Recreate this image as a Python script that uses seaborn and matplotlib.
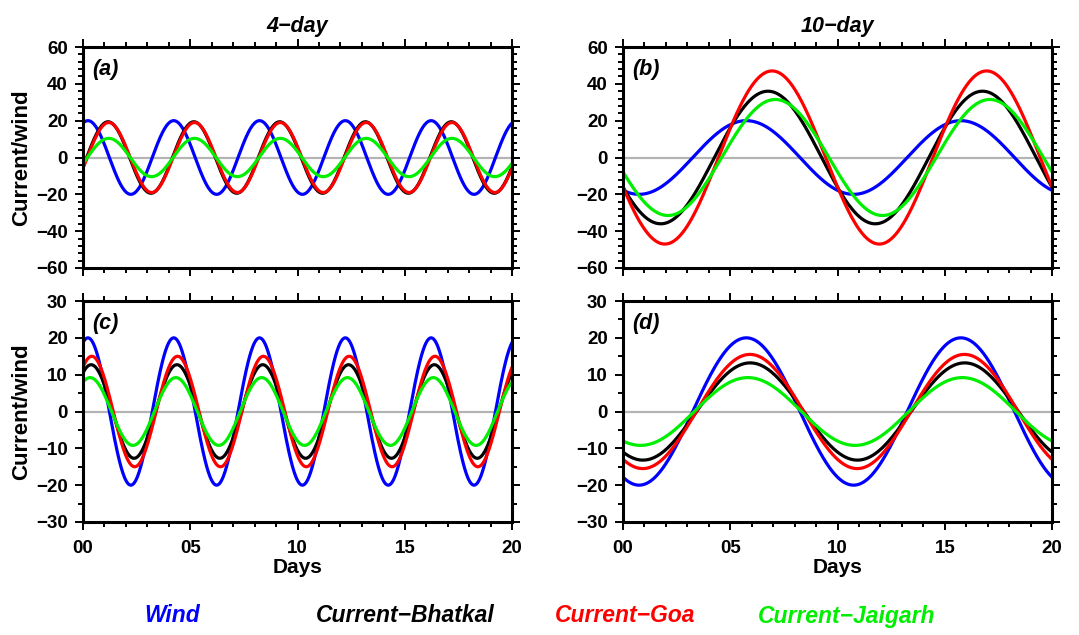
import numpy as np
import pandas as pd
import matplotlib
matplotlib.use("Agg")
import matplotlib.pyplot as plt
from matplotlib.ticker import MultipleLocator, FixedLocator
import seaborn as sns

sns.set_theme(style="white")
plt.rcParams["font.family"] = ["Liberation Sans", "DejaVu Sans"]
plt.rcParams["axes.unicode_minus"] = True
for key in ["text.color", "axes.labelcolor", "xtick.color", "ytick.color",
            "axes.edgecolor"]:
    plt.rcParams[key] = "black"

# Harmonic fits: amplitude and day of first crest for each series
series_names = ["Wind", "Current\u2212Bhatkal", "Current\u2212Goa", "Current\u2212Jaigarh"]
series_colors = ["#0000ff", "#000000", "#ff0000", "#00ee00"]

# 4-day band, wind-normalised to 20 (panel a) and scaled currents (panel c)
period_4day = 4.0
amp_a = [20.0, 19.4, 19.0, 10.4]
crest_a = [0.23, 1.17, 1.20, 1.20]
amp_c = [20.0, 12.7, 15.0, 9.2]
crest_c = [0.23, 0.38, 0.41, 0.33]

# 10-day band (panels b and d)
period_10day = 10.0
amp_b = [20.0, 36.0, 47.0, 31.5]
crest_b = [5.75, 6.76, 6.95, 7.10]
amp_d = [20.0, 13.2, 15.5, 9.2]
crest_d = [5.75, 5.93, 5.92, 5.82]

panel_letters = ["(a)", "(b)", "(c)", "(d)"]
column_titles = ["4\u2212day", "10\u2212day"]
x_tick_values = [0, 5, 10, 15, 20]
x_tick_labels = ["00", "05", "10", "15", "20"]
y_ticks_top = [-60, -40, -20, 0, 20, 40, 60]
y_ticks_bottom = [-30, -20, -10, 0, 10, 20, 30]

days = np.linspace(0, 20, 801)


def curves(amps, crests, period):
    frames = []
    for name, a, c in zip(series_names, amps, crests):
        frames.append(pd.DataFrame({
            "Days": days,
            "value": a * np.cos(2 * np.pi * (days - c) / period),
            "series": name,
        }))
    return pd.concat(frames, ignore_index=True)


panels = [
    (curves(amp_a, crest_a, period_4day), y_ticks_top, 4),
    (curves(amp_b, crest_b, period_10day), y_ticks_top, 4),
    (curves(amp_c, crest_c, period_4day), y_ticks_bottom, 5),
    (curves(amp_d, crest_d, period_10day), y_ticks_bottom, 5),
]

W, H = 1079, 635
fig = plt.figure(figsize=(W / 100, H / 100), dpi=100)

lefts = [83, 623]
tops = [47, 301]
pw, ph = 429, 221
palette = dict(zip(series_names, series_colors))

for i, (df, yt, yminor) in enumerate(panels):
    row, col = divmod(i, 2)
    ax = fig.add_axes([lefts[col] / W, 1 - (tops[row] + ph) / H, pw / W, ph / H])
    ax.axhline(0, color="#b4b4b4", lw=1.6, zorder=1)
    sns.lineplot(data=df, x="Days", y="value", hue="series", palette=palette,
                 hue_order=series_names, lw=2.3, legend=False, ax=ax,
                 estimator=None, sort=False, zorder=3)
    ax.set_xlim(0, 20)
    ax.set_ylim(yt[0], yt[-1])
    ax.xaxis.set_major_locator(FixedLocator(x_tick_values))
    ax.xaxis.set_minor_locator(MultipleLocator(1))
    ax.yaxis.set_major_locator(FixedLocator(yt))
    ax.yaxis.set_minor_locator(MultipleLocator(yminor))
    ax.tick_params(which="both", direction="out", top=True, right=True,
                   bottom=True, left=True, color="black", labelcolor="black",
                   width=1.4)
    ax.tick_params(which="major", length=6, labelsize=13.5)
    ax.tick_params(axis="x", which="major", pad=7)
    ax.tick_params(axis="y", which="major", pad=5)
    ax.tick_params(which="minor", length=3.5)
    ax.set_yticklabels([f"{v}".replace("-", "\u2212") for v in yt],
                       fontweight="bold")
    if row == 1:
        ax.set_xticklabels(x_tick_labels, fontweight="bold")
        ax.set_xlabel("Days", fontsize=15, fontweight="bold", labelpad=1,
                      color="black")
    else:
        ax.set_xticklabels([])
        ax.set_xlabel("")
        ax.set_title(column_titles[col], fontsize=15.5, fontweight="bold",
                     fontstyle="italic", pad=11, color="black")
    if col == 0:
        ax.set_ylabel("Current/wind", fontsize=16, fontweight="bold", labelpad=3,
                      color="black")
    else:
        ax.set_ylabel("")
    for s in ax.spines.values():
        s.set_linewidth(2.2)
        s.set_color("black")
        s.set_zorder(5)
    ax.text(0.022, 0.9, panel_letters[i], transform=ax.transAxes,
            fontsize=15.5, fontweight="bold", fontstyle="italic",
            va="center", ha="left", color="black")

legend_x = [172, 405, 625, 847]
for name, color, x in zip(series_names, series_colors, legend_x):
    fig.text(x / W, 1 - 616 / H, name, color=color, fontsize=16.5,
             fontweight="bold", fontstyle="italic", ha="center", va="center")

fig.savefig("out.png", dpi=100, facecolor="white")
